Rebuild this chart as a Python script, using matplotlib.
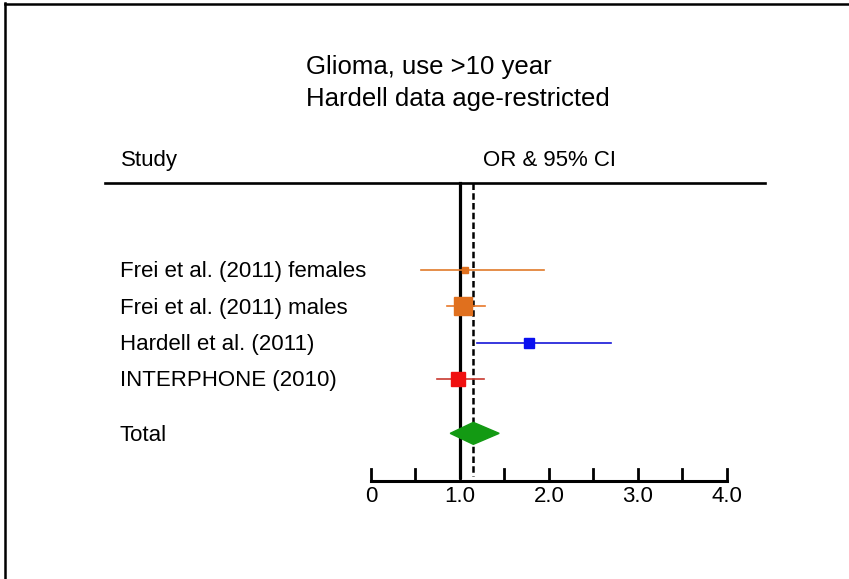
import matplotlib
matplotlib.use("Agg")
from matplotlib import pyplot as plt, lines
from matplotlib.transforms import blended_transform_factory
from matplotlib.patches import Polygon

plt.rcParams["font.family"] = ["Liberation Sans", "DejaVu Sans"]

# data
studies = ["Frei et al. (2011) females", "Frei et al. (2011) males",
           "Hardell et al. (2011)", "INTERPHONE (2010)"]
odds = [1.06, 1.03, 1.78, 0.98]
ci_low = [0.56, 0.85, 1.19, 0.74]
ci_high = [1.94, 1.28, 2.70, 1.27]
total_or = 1.15
total_low = 0.89
total_high = 1.44
ticks = [0, 0.5, 1.0, 1.5, 2.0, 2.5, 3.0, 3.5, 4.0]
tick_labels = {0: "0", 1.0: "1.0", 2.0: "2.0", 3.0: "3.0", 4.0: "4.0"}

# styles
line_colors = ["#e07a2a", "#e8782a", "#1515d8", "#c83a30"]
box_colors = ["#e0701e", "#e0701e", "#0a10f0", "#f01010"]
box_sizes = [4.5, 13.5, 7.0, 10.0]
fs = 16

W, H, DPI = 849, 579, 100
fig = plt.figure(figsize=(W / DPI, H / DPI), dpi=DPI)
ax = fig.add_axes([0, 0, 1, 1])
ax.axis("off")

# pixel layout: x=0 -> 371px, 1 unit = 89px; row 0 -> 270px, 1 row = 36.3px
x0, xs = 371, 89.0
y0, ys = 270, 36.3
ax.set_xlim(-x0 / xs, (W - x0) / xs)
ax.set_ylim((H - y0) / ys, -y0 / ys)

rows = list(range(len(studies)))
total_row = 4.5
header_y = (183 - y0) / ys
axis_y = (481 - y0) / ys
tick_h = 12 / ys
base_off = 7.5 / ys  # text baseline below row centre

# reference lines
ax.plot([1.0, 1.0], [header_y, axis_y - 0.1], color="black", lw=2.3, zorder=2)
ax.plot([total_or, total_or], [header_y, axis_y - 0.15], color="black", lw=1.8,
        ls=(0, (2.6, 1.3)), zorder=2)

# studies
for i, r in enumerate(rows):
    ax.plot([ci_low[i], ci_high[i]], [r, r], color=line_colors[i], lw=1.2, zorder=3)
    ax.plot(odds[i], r, marker="s", ms=box_sizes[i], color=box_colors[i],
            mec=box_colors[i], zorder=4)

# total diamond
dh = 11 / ys
diamond = Polygon([(total_low, total_row), (total_or, total_row - dh),
                   (total_high, total_row), (total_or, total_row + dh)],
                  closed=True, facecolor="#139a13", edgecolor="#139a13", zorder=4)
ax.add_patch(diamond)

# header rule
trans_fig_x = blended_transform_factory(fig.transFigure, ax.transData)
ax.plot([105 / W, 765 / W], [header_y, header_y], color="black", lw=1.9,
        transform=trans_fig_x, zorder=2)

# x axis
ax.plot([ticks[0], ticks[-1]], [axis_y, axis_y], color="black", lw=2.2, zorder=2)
for t in ticks:
    ax.plot([t, t], [axis_y, axis_y - tick_h], color="black", lw=2.0, zorder=2)
    if t in tick_labels:
        ax.text(t, (502 - y0) / ys, tick_labels[t], ha="center", va="baseline", fontsize=fs)

# study labels
for i, r in enumerate(rows):
    ax.text(120 / W, r + base_off, studies[i], transform=trans_fig_x, ha="left",
            va="baseline", fontsize=fs)
ax.text(120 / W, total_row + base_off, "Total", transform=trans_fig_x, ha="left",
        va="baseline", fontsize=fs)

# column headers and title
fig.text(121 / W, 1 - 166 / H, "Study", ha="left", va="baseline", fontsize=fs)
fig.text(483 / W, 1 - 166 / H, "OR & 95% CI", ha="left", va="baseline", fontsize=fs)
fig.text(306 / W, 1 - 74 / H, "Glioma, use >10 year", ha="left", va="baseline", fontsize=18.5)
fig.text(306 / W, 1 - 106 / H, "Hardell data age-restricted", ha="left", va="baseline",
         fontsize=18.5)

# slide border
fig.add_artist(lines.Line2D([5 / W, 5 / W], [0, 1 - 3 / H], color="black", lw=1.8,
                            transform=fig.transFigure))
fig.add_artist(lines.Line2D([5 / W, 1], [1 - 4 / H, 1 - 4 / H], color="black", lw=1.8,
                            transform=fig.transFigure))

fig.savefig("out.png", dpi=DPI, facecolor="white")
